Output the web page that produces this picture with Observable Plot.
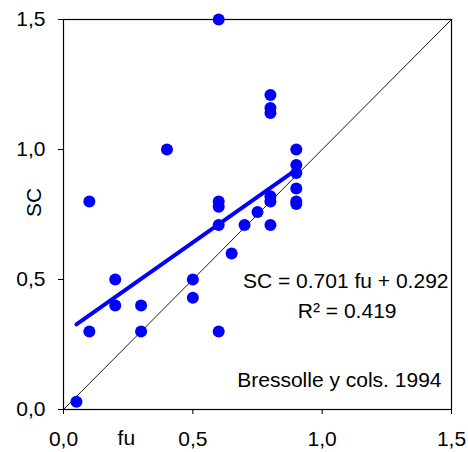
<!DOCTYPE html>
<html>
<head>
<meta charset="utf-8">
<script src="https://cdn.jsdelivr.net/npm/d3@7"></script>
<script src="https://cdn.jsdelivr.net/npm/@observablehq/plot@0.6"></script>
<style>
  html, body { margin: 0; padding: 0; background: #fff; }
  svg { font-family: "Liberation Sans", Arial, sans-serif; }
</style>
</head>
<body>
<div id="chart"></div>
<script>
const fu = [0.05, 0.1, 0.1, 0.2, 0.2, 0.3, 0.3, 0.4, 0.5, 0.5, 0.6, 0.6, 0.6, 0.6, 0.6, 0.65, 0.7, 0.75, 0.8, 0.8, 0.8, 0.8, 0.8, 0.8, 0.9, 0.9, 0.9, 0.9, 0.9, 0.9];
const sc = [0.03, 0.30, 0.80, 0.40, 0.50, 0.30, 0.40, 1.00, 0.43, 0.50, 0.30, 0.71, 0.78, 0.80, 1.50, 0.60, 0.71, 0.76, 0.71, 0.80, 0.82, 1.14, 1.16, 1.21, 0.79, 0.80, 0.85, 0.91, 0.94, 1.00];
const slope = 0.701;
const intercept = 0.292;
const fitRange = [0.05, 0.9];
const identity = [0, 1.5];
const ticks = [0, 0.5, 1.0, 1.5];
const eqText = "SC = 0.701 fu + 0.292";
const r2Text = "R² = 0.419";
const sourceText = "Bressolle y cols. 1994";

const points = fu.map((x, i) => ({x, y: sc[i]}));
const fitLine = fitRange.map(x => ({x, y: slope * x + intercept}));
const idLine = identity.map(v => ({x: v, y: v}));
const fmt = d => d3.format(".1f")(d).replace(".", ",");

const chart = Plot.plot({
  width: 468,
  height: 452,
  marginLeft: 63,
  marginRight: 17,
  marginTop: 19,
  marginBottom: 43,
  style: {fontSize: "21px", fontFamily: "Liberation Sans, Arial, sans-serif", color: "#000"},
  x: {domain: [0, 1.5], ticks, tickFormat: fmt, label: null},
  y: {domain: [0, 1.5], ticks, tickFormat: fmt, label: null},
  marks: [
    Plot.frame({stroke: "#000", strokeWidth: 1.2}),
    Plot.axisX({ticks, tickFormat: fmt, tickSize: 5, tickPadding: 17, label: null, fontSize: 21}),
    Plot.axisY({ticks, tickFormat: fmt, tickSize: 5, tickPadding: 13, label: null, fontSize: 21}),
    Plot.line(idLine, {x: "x", y: "y", stroke: "#000", strokeWidth: 0.9}),
    Plot.dot(points, {x: "x", y: "y", r: 6, fill: "#0000ff", stroke: "none"}),
    Plot.line(fitLine, {x: "x", y: "y", stroke: "#0000ff", strokeWidth: 4}),
    Plot.text(["fu"], {x: 0.243, y: 0, dy: 29, text: d => d, fontSize: 21, fill: "#000"}),
    Plot.text(["SC"], {frameAnchor: "left", y: 0.74, dx: -29, rotate: -90, text: d => d, fontSize: 21, fill: "#000"}),
    Plot.text([eqText], {x: 1.5, y: 0.5, dx: -3, dy: 2, textAnchor: "end", text: d => d, fontSize: 21, fill: "#000"}),
    Plot.text([r2Text], {x: 1.5, y: 0.5, dx: -55, dy: 32, textAnchor: "end", text: d => d, fontSize: 21, fill: "#000"}),
    Plot.text([sourceText], {x: 1.5, y: 0.1, dx: -10, dy: -3, textAnchor: "end", text: d => d, fontSize: 21, fill: "#000"})
  ]
});
document.getElementById("chart").appendChild(chart);
</script>
</body>
</html>
